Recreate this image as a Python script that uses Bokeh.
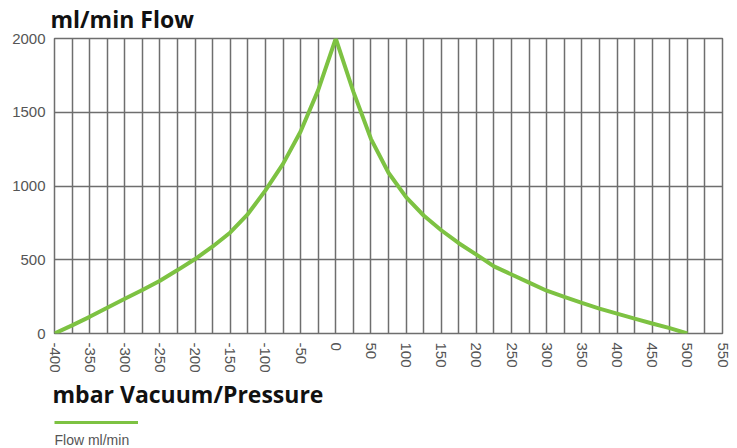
from bokeh.plotting import figure
from bokeh.layouts import column
from bokeh.models import (Range1d, FixedTicker, Legend, LegendItem, Title,
                          ColumnDataSource, PrintfTickFormatter)
from bokeh.embed import file_html
from bokeh.resources import INLINE

# ---- data ----
pressure = [-400, -375, -350, -325, -300, -275, -250, -225, -200, -175, -150,
            -125, -100, -75, -50, -25, 0, 25, 50, 75, 100, 125, 150, 175, 200,
            225, 250, 275, 300, 325, 350, 375, 400, 425, 450, 475, 500]
flow = [0, 55, 113, 175, 235, 295, 358, 430, 505, 590, 685,
        810, 970, 1150, 1370, 1650, 2000, 1640, 1320, 1090, 925, 800, 700, 612, 535,
        455, 400, 345, 290, 248, 207, 169, 135, 101, 68, 36, 0]

x_ticks = [-400, -350, -300, -250, -200, -150, -100, -50, 0, 50, 100, 150,
           200, 250, 300, 350, 400, 450, 500, 550]
x_minor = [-375, -325, -275, -225, -175, -125, -75, -25, 25, 75, 125, 175,
           225, 275, 325, 375, 425, 475, 525]
y_ticks = [0, 500, 1000, 1500, 2000]

title_text = "ml/min Flow"
x_label = "mbar Vacuum/Pressure"
series_name = "Flow ml/min"

GREEN = "#7dc242"
GRID = "#6e6e6e"
TICK = "#555555"
BOLD_FONT = "Open Sans"

src = ColumnDataSource(dict(x=pressure, y=flow))

# ---------------- main chart ----------------
p = figure(width=737, height=413, output_backend="svg", toolbar_location=None,
           x_range=Range1d(x_ticks[0], x_ticks[-1]),
           y_range=Range1d(y_ticks[0], y_ticks[-1]),
           min_border_left=54, min_border_right=15, min_border_top=38,
           min_border_bottom=80)

p.title.text = title_text
p.title.text_font = BOLD_FONT
p.title.text_font_size = "23px"
p.title.text_font_style = "bold"
p.title.text_color = "#111111"
p.title.text_line_height = 1.0
p.title.align = "left"
p.title.vertical_align = "top"
p.title.offset = -4
p.title.standoff = 4

r = p.line("x", "y", source=src, line_color=GREEN, line_width=4)

ticker_x = FixedTicker(ticks=x_ticks, minor_ticks=x_minor)
p.xaxis.ticker = ticker_x
p.yaxis.ticker = FixedTicker(ticks=y_ticks)
p.xaxis.formatter = PrintfTickFormatter(format="%d")
for ax in (p.xaxis, p.yaxis):
    ax.axis_line_color = None
    ax.major_tick_line_color = None
    ax.minor_tick_line_color = None
    ax.major_tick_out = 0
    ax.major_tick_in = 0
    ax.minor_tick_out = 0
    ax.minor_tick_in = 0
    ax.major_label_text_font = "Liberation Sans"
    ax.major_label_text_font_size = "15px"
    ax.major_label_text_color = TICK
    ax.major_label_standoff = 9
p.xaxis.major_label_orientation = "vertical"

# x-axis caption, left aligned under the tick labels
p.add_layout(Title(text=x_label, align="left", offset=-2,
                   text_font=BOLD_FONT, text_font_size="23px",
                   text_font_style="bold", text_color="#111111",
                   text_line_height=1.0, standoff=0), "below")

p.xgrid.ticker = ticker_x
p.xgrid.grid_line_color = GRID
p.xgrid.grid_line_width = 1.5
p.xgrid.minor_grid_line_color = GRID
p.xgrid.minor_grid_line_width = 1.5
p.ygrid.grid_line_color = GRID
p.ygrid.grid_line_width = 1.5
p.outline_line_color = GRID
p.outline_line_width = 1.5
p.background_fill_color = "white"
p.border_fill_color = "white"

# ---------------- legend strip ----------------
leg = figure(width=737, height=35, output_backend="svg", toolbar_location=None,
             x_range=Range1d(x_ticks[0], x_ticks[-1]),
             y_range=Range1d(y_ticks[0], y_ticks[-1]),
             x_axis_type=None, y_axis_type=None,
             min_border_left=54, min_border_right=15, min_border_top=0,
             min_border_bottom=0)
leg.grid.visible = False
leg.outline_line_color = None
r_leg = leg.line("x", "y", source=src, line_color=GREEN, line_width=3,
                 visible=False)
legend = Legend(items=[LegendItem(label=" ", renderers=[r_leg])],
                location=(0, 4), glyph_width=84, glyph_height=4,
                padding=0, margin=0, spacing=0, label_standoff=0,
                label_width=0, label_height=4, label_text_font_size="1px",
                border_line_color=None, background_fill_alpha=0,
                inactive_fill_alpha=0)
leg.add_layout(legend, "center")
leg.add_layout(Title(text=series_name, align="left", offset=0,
                     text_font="Liberation Sans", text_font_size="14px",
                     text_font_style="normal", text_color="#555555",
                     standoff=2), "below")

layout = column(p, leg, spacing=0)
open("out.html", "w").write(file_html(layout, INLINE))
